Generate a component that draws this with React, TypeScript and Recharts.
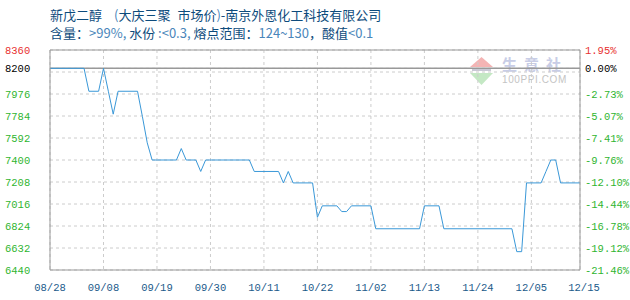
import React from 'react';
import { LineChart, Line, XAxis, YAxis, CartesianGrid, ReferenceLine } from 'recharts';

// price points (MM/DD), straight segments between them
const dates = [
  '08/28', '09/04', '09/05', '09/07', '09/08', '09/09', '09/10', '09/11', '09/15', '09/16',
  '09/17', '09/18', '09/23', '09/24', '09/25', '09/27', '09/28', '09/29', '10/08', '10/09',
  '10/14', '10/15', '10/16', '10/17', '10/21', '10/22', '10/23', '10/26', '10/27', '10/28',
  '10/29', '11/02', '11/03', '11/12', '11/13', '11/16', '11/17', '12/01', '12/02', '12/03',
  '12/04', '12/07', '12/08', '12/09', '12/10', '12/11', '12/15',
];
const prices = [
  8200, 8200, 8000, 8000, 8200, 8000, 7800, 8000, 8000, 7780,
  7550, 7400, 7400, 7500, 7400, 7400, 7300, 7400, 7400, 7300,
  7300, 7200, 7300, 7200, 7200, 6900, 7000, 7000, 6950, 6950,
  7000, 7000, 6800, 6800, 7000, 7000, 6800, 6800, 6600, 6600,
  7200, 7200, 7300, 7400, 7400, 7200, 7200,
];

const xTickLabels = ['08/28', '09/08', '09/19', '09/30', '10/11', '10/22', '11/02', '11/13', '11/24', '12/05', '12/15'];
const yTicks = [6440, 6632, 6824, 7016, 7208, 7400, 7592, 7784, 7976, 8168, 8200, 8360];
const basePrice = 8200;
const hiddenTick = 8168;

const dayOf = (md: string) => {
  const [m, d] = md.split('/').map(Number);
  return Math.round((Date.UTC(2020, m - 1, d) - Date.UTC(2020, 7, 28)) / 86400000);
};

const data = dates.map((date, i) => ({ day: dayOf(date), price: prices[i] }));
const xTicks = xTickLabels.map(dayOf);
const lastDay = xTicks[xTicks.length - 1];

const RED = '#e83030';
const GREEN = '#2fb52f';
const tickColor = (v: number) => (v > basePrice ? RED : v === basePrice ? '#000' : GREEN);
const MONO = '"Liberation Mono", "DejaVu Sans Mono", monospace';

const LeftTick = (props: any) => {
  const { y, payload } = props;
  const v = payload.value;
  if (v === hiddenTick) return <g />;
  return (
    <text x={5} y={y} dy={4} fill={tickColor(v)} fontSize={10.5} fontFamily={MONO}>
      {v}
    </text>
  );
};

const RightTick = (props: any) => {
  const { y, payload } = props;
  const v = payload.value;
  if (v === hiddenTick) return <g />;
  const pct = ((v / basePrice - 1) * 100).toFixed(2) + '%';
  return (
    <text x={585} y={y} dy={4} fill={tickColor(v)} fontSize={10.5} fontFamily={MONO}>
      {pct}
    </text>
  );
};

const DateTick = (props: any) => {
  const { x, payload } = props;
  const i = xTicks.indexOf(payload.value);
  const shift = payload.value === lastDay ? 4 : 0;
  return (
    <text x={x + shift} y={287} dy={4} textAnchor="middle" fill="#1a5a8a" fontSize={10.5} fontFamily={MONO}>
      {xTickLabels[i]}
    </text>
  );
};

const dark = '#0d4b7c';
const light = '#4a86ba';
const CJK = '"Noto Sans CJK SC", "Noto Sans", sans-serif';
const gap = (w: number) => <span style={{ display: 'inline-block', width: w }} />;

export default function App() {
  return (
    <div style={{ position: 'absolute', left: 0, top: 0, width: 630, height: 300, background: '#fff', fontFamily: CJK }}>
      <div style={{ position: 'absolute', left: 50, top: 6, fontSize: 13, lineHeight: '18px', color: dark, whiteSpace: 'nowrap' }}>
        新戊二醇{gap(12)}<span style={{ color: light }}>(</span>大庆三聚{gap(7)}市场价<span style={{ color: light }}>)</span>-南京外恩化工科技有限公司
      </div>
      <div style={{ position: 'absolute', left: 50, top: 24, fontSize: 13, lineHeight: '18px', color: dark, whiteSpace: 'nowrap' }}>
        含量：<span style={{ color: light }}>&gt;99%,</span> 水份 <span style={{ color: light }}>:&lt;0.3,</span> 熔点范围：
        <span style={{ color: light }}>124~130</span>，酸值<span style={{ color: light }}>&lt;0.1</span>
      </div>
      <svg style={{ position: 'absolute', left: 470, top: 52 }} width={100} height={38}>
        <polygon points="0,15 11.5,5 23,15" fill="#f4b4b4" />
        <rect x={2} y={16} width={19} height={3} fill="#c9c9d6" />
        <polygon points="0,21 23,21 11.5,33" fill="#c4e8c4" />
        <text x={32} y={18} fontSize={15} fill="#c8cde6" fontFamily={CJK} fontWeight={700} letterSpacing={7}>
          生意社
        </text>
        <text x={32} y={31} fontSize={10} fill="#c4c4c4" letterSpacing={0.6} fontFamily='"Liberation Sans", Arial, sans-serif'>
          100PPI.COM
        </text>
      </svg>
      <div style={{ position: 'absolute', left: 0, top: 0 }}>
        <LineChart width={630} height={300} data={data} margin={{ top: 50, right: 0, bottom: 0, left: 0 }}>
          <CartesianGrid stroke="#cccccc" strokeDasharray="3 3" />
          <XAxis
            dataKey="day"
            type="number"
            domain={[0, lastDay]}
            ticks={xTicks}
            interval={0}
            height={30}
            tickLine={false}
            axisLine={{ stroke: '#999' }}
            tick={<DateTick />}
          />
          <YAxis
            type="number"
            domain={[6440, 8360]}
            ticks={yTicks}
            interval={0}
            width={50}
            tickLine={false}
            axisLine={{ stroke: '#999' }}
            tick={<LeftTick />}
          />
          <YAxis
            yAxisId="right"
            orientation="right"
            type="number"
            domain={[6440, 8360]}
            allowDataOverflow
            ticks={yTicks}
            interval={0}
            width={50}
            tickLine={false}
            axisLine={{ stroke: '#999' }}
            tick={<RightTick />}
          />
          <ReferenceLine y={8360} stroke="#999" />
          <ReferenceLine y={basePrice} stroke="#999" strokeWidth={1.5} />
          <Line
            type="linear"
            dataKey="price"
            stroke="#3a98d8"
            strokeWidth={1}
            dot={false}
            isAnimationActive={false}
          />
        </LineChart>
      </div>
    </div>
  );
}
